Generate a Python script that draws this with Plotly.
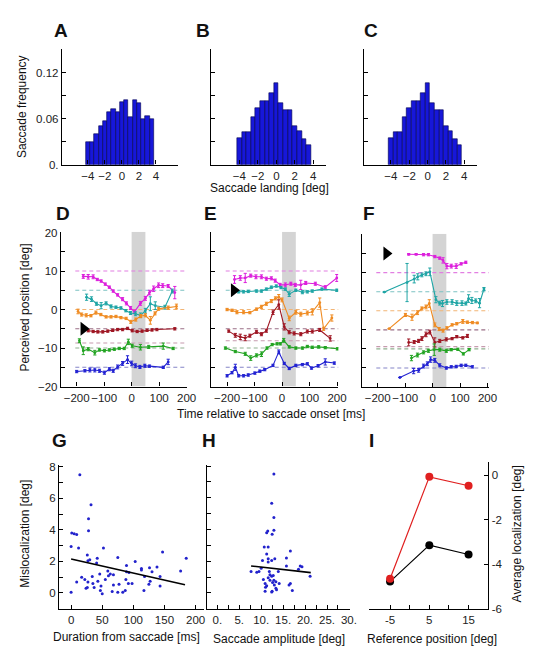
import plotly.graph_objects as go

W, H = 538, 650
FONT = "Liberation Sans, Arial, sans-serif"

# ---------------- data ----------------
bin_centers = [-4, -3.5, -3, -2.5, -2, -1.5, -1, -0.5, 0, 0.5, 1, 1.5, 2, 2.5, 3, 3.5]
freq_A = [0.029, 0.030, 0.040, 0.051, 0.057, 0.069, 0.072, 0.069, 0.082, 0.084, 0.062, 0.085, 0.080, 0.060, 0.063, 0.059]
freq_B = [0.035, 0.042, 0.042, 0.062, 0.074, 0.083, 0.083, 0.094, 0.106, 0.080, 0.071, 0.071, 0.051, 0.044, 0.034, 0.025]
freq_C = [0.035, 0.042, 0.042, 0.062, 0.074, 0.083, 0.083, 0.094, 0.106, 0.080, 0.071, 0.071, 0.051, 0.044, 0.034, 0.025]

saccade_window = [0, 50]
ref_span = [-205, 205]
ref_levels_D = [10, 5, 0, -5, -8.7, -10, -15]
ref_levels_E = [10, 5, 0, -5, -8.1, -10, -15]
ref_levels_F = [10, 5, 0, -5, -9.4, -10, -15]
arrow_t = [-175, -175, -168]
arrow_v = [-5, 5, 15]

# Panel D
D_mag_t = [-176, -158, -140, -125, -111, -96, -81, -67, -51, -33, -19, -4, 10, 32, 50, 65, 80, 98, 113, 133, 157]
D_mag_y = [8.6, 8.5, 8.5, 7.8, 7.4, 6.6, 5.8, 4.8, 3.8, 2.7, 1.6, 0.4, -0.6, 1.6, 2.9, 4.4, 5.4, 6.3, 6.2, 6.1, 4.4]
D_mag_e = [0.5, 0.6, 0.5, 0.3, 0.3, 0.3, 0.3, 0.3, 0.3, 0.4, 0.4, 0.4, 0.5, 0.5, 0.5, 0.6, 0.7, 0.6, 0.5, 0.4, 1.6]
D_teal_t = [-164, -146, -128, -111, -93, -75, -57, -39, -21, -4, 14, 32, 50, 68, 86, 121, 148]
D_teal_y = [3.2, 2.7, 1.5, 1.0, 1.6, 0.8, 0.6, 0.4, -0.3, -0.9, -1.1, -1.5, -0.3, 1.5, 1.0, 0.6, 4.8]
D_teal_e = [0.8, 0.6, 0.4, 0.8, 0.4, 0.4, 0.3, 0.3, 0.3, 0.4, 0.5, 0.6, 0.6, 1.8, 1.0, 0.5, 0.5]
D_org_t = [-195, -182, -165, -148, -130, -112, -93, -75, -57, -39, -20, -3, 15, 33, 50, 68, 85, 98, 133, 163]
D_org_y = [-0.5, -1.3, -1.5, -1.6, -0.8, -1.3, -1.9, -1.9, -1.8, -2.1, -2.3, -3.2, -2.6, -1.7, -1.5, -2.8, -1.0, 0.2, 0.5, 0.8]
D_org_e = [0.6, 0.4, 0.4, 0.3, 0.4, 0.3, 0.3, 0.3, 0.3, 0.3, 0.3, 0.4, 0.4, 0.4, 0.4, 1.0, 0.4, 0.4, 0.4, 0.6]
D_red_t = [-158, -140, -123, -105, -87, -69, -51, -33, -15, 2, 20, 38, 56, 74, 92, 157]
D_red_y = [-5.5, -5.7, -5.8, -5.8, -5.6, -5.4, -5.2, -5.2, -4.9, -5.5, -5.7, -5.6, -5.4, -5.3, -5.2, -5.0]
D_red_e = [0.3, 0.3, 0.3, 0.3, 0.3, 0.3, 0.3, 0.3, 0.3, 0.3, 0.3, 0.3, 0.3, 0.3, 0.3, 0.3]
D_grn_t = [-190, -176, -158, -134, -117, -99, -81, -63, -45, -27, -12, 2, 32, 62, 115, 151]
D_grn_y = [-8.1, -10.7, -10.3, -11.2, -10.5, -10.7, -10.5, -10.3, -10.1, -10.1, -8.4, -9.4, -9.8, -9.7, -9.5, -10.1]
D_grn_e = [0.5, 1.0, 0.4, 0.6, 0.3, 0.3, 0.3, 0.3, 0.3, 0.3, 0.7, 0.4, 0.7, 0.4, 0.8, 0.3]
D_blu_t = [-200, -170, -152, -134, -117, -99, -81, -67, -51, -33, -15, 0, 14, 30, 48, 65, 115, 133]
D_blu_y = [-16.1, -15.9, -15.7, -15.7, -15.9, -16.4, -15.5, -15.9, -14.9, -14.0, -13.0, -14.0, -14.6, -14.9, -14.6, -14.7, -15.0, -13.6]
D_blu_e = [0.3, 0.3, 0.5, 0.5, 0.4, 0.4, 0.4, 0.4, 0.5, 0.5, 1.0, 0.6, 0.5, 0.4, 0.4, 0.3, 0.3, 0.7]

# Panel E
E_mag_t = [-173, -152, -134, -114, -95, -75, -57, -39, -25, -7, 12, 32, 48, 68, 86, 121, 157, 199]
E_mag_y = [7.8, 8.2, 8.2, 8.8, 8.5, 8.5, 8.0, 8.1, 7.5, 6.4, 6.4, 6.7, 6.4, 6.4, 6.9, 6.7, 5.8, 8.2]
E_mag_e = [1.0, 0.6, 1.2, 0.4, 0.5, 0.5, 0.4, 0.4, 0.4, 0.4, 0.5, 0.4, 0.4, 1.2, 0.4, 0.4, 0.4, 0.9]
E_teal_t = [-158, -140, -123, -93, -75, -57, -39, -21, -4, 12, 26, 50, 74, 92, 110, 145, 199]
E_teal_y = [4.6, 4.6, 4.7, 4.8, 4.8, 5.3, 5.8, 6.1, 5.7, 5.3, 4.0, 5.0, 4.5, 4.6, 4.8, 5.3, 5.0]
E_teal_e = [0.3, 0.3, 0.3, 0.3, 0.3, 0.3, 0.3, 0.3, 0.3, 0.3, 0.6, 0.3, 0.4, 0.3, 0.3, 0.3, 0.3]
E_org_t = [-200, -182, -164, -140, -117, -93, -75, -57, -39, -24, -12, 0, 26, 50, 68, 92, 110, 137, 151, 181]
E_org_y = [0.0, -0.2, -0.7, -0.7, -0.8, 0.1, 0.7, 1.5, 2.2, 2.9, 3.3, 2.5, -2.3, -0.7, -1.2, -0.9, -0.6, 1.8, -5.0, -2.2]
E_org_e = [0.3, 0.3, 0.4, 0.4, 0.3, 0.3, 0.4, 0.4, 0.4, 0.4, 0.6, 0.5, 0.6, 0.5, 0.5, 0.5, 0.8, 1.2, 0.4, 0.8]
E_red_t = [-194, -170, -152, -134, -117, -93, -75, -57, -33, -12, 8, 26, 44, 68, 92, 110, 137, 175]
E_red_y = [-5.6, -6.7, -7.1, -7.4, -6.8, -5.8, -6.4, -5.5, -0.7, 1.3, -4.5, -5.9, -6.2, -6.4, -5.7, -5.7, -5.3, -7.5]
E_red_e = [0.3, 0.5, 0.7, 0.7, 0.4, 0.4, 0.4, 0.4, 0.6, 1.2, 0.8, 0.4, 0.4, 0.4, 0.4, 0.4, 0.4, 0.7]
E_grn_t = [-206, -170, -134, -114, -93, -75, -55, -36, -18, -6, 6, 26, 50, 74, 92, 110, 133, 157, 201]
E_grn_y = [-10.0, -10.9, -11.5, -12.6, -11.9, -11.6, -10.0, -9.1, -8.9, -8.9, -8.0, -9.7, -10.0, -10.0, -9.6, -9.8, -9.7, -9.9, -10.2]
E_grn_e = [0.3, 0.3, 0.4, 0.6, 0.4, 0.6, 0.3, 0.3, 0.3, 0.3, 0.5, 0.3, 0.3, 0.3, 0.3, 0.3, 0.3, 0.3, 0.3]
E_blu_t = [-200, -182, -170, -158, -140, -123, -99, -81, -63, -33, -12, 8, 26, 50, 74, 92, 107, 131, 157, 190]
E_blu_y = [-17.2, -16.4, -15.0, -17.2, -17.2, -17.0, -16.5, -16.0, -15.6, -14.5, -11.0, -14.0, -15.3, -14.5, -14.3, -14.1, -15.2, -14.6, -13.6, -13.9]
E_blu_e = [0.3, 0.3, 0.8, 0.3, 0.3, 0.3, 0.3, 0.3, 0.3, 0.3, 0.5, 0.3, 0.3, 0.3, 0.3, 0.3, 0.3, 0.3, 0.8, 0.3]

# Panel F
F_mag_t = [-87, -60, -33, -15, 8, 26, 38, 52, 68, 86, 104, 121]
F_mag_y = [14.8, 14.8, 14.7, 14.7, 14.2, 13.8, 13.2, 11.7, 11.7, 11.7, 12.3, 12.7]
F_mag_e = [0.2, 0.2, 0.3, 0.3, 0.3, 0.3, 0.7, 0.7, 0.5, 0.6, 0.3, 0.3]
F_teal_t = [-176, -93, -67, -54, -39, -24, -10, 12, 26, 36, 52, 71, 88, 107, 121, 131, 143, 157, 171, 187]
F_teal_y = [4.9, 7.4, 8.3, 8.9, 9.4, 9.7, 10.2, 2.9, 2.0, 1.9, 2.3, 2.3, 2.0, 2.0, 1.9, 3.2, 2.7, 2.6, 2.0, 5.7]
F_teal_e = [0.0, 5.0, 1.0, 0.8, 0.5, 0.5, 1.0, 0.8, 0.5, 0.8, 0.6, 0.6, 0.6, 0.6, 0.4, 1.0, 0.8, 0.5, 1.2, 0.4]
F_org_t = [-158, -99, -75, -55, -39, -24, -12, 8, 24, 38, 52, 71, 88, 110, 127, 145, 163]
F_org_y = [-4.7, -1.1, -1.7, -0.5, 0.6, 1.0, 1.9, -3.7, -4.8, -5.2, -4.5, -3.7, -3.4, -2.8, -3.0, -3.1, -3.2]
F_org_e = [0.0, 0.4, 0.8, 0.5, 0.4, 0.5, 1.0, 0.5, 0.4, 0.4, 0.3, 0.3, 0.3, 0.5, 0.3, 0.3, 0.2]
F_red_t = [-87, -67, -51, -39, -24, -10, 8, 26, 50, 71, 88, 110, 127]
F_red_y = [-8.3, -8.2, -7.9, -7.3, -6.2, -5.6, -8.3, -7.9, -7.5, -7.3, -6.8, -7.1, -6.6]
F_red_e = [0.9, 0.4, 0.4, 0.5, 0.6, 0.5, 1.2, 0.4, 0.4, 0.3, 0.3, 0.3, 0.4]
F_grn_t = [-77, -55, -33, -15, 6, 26, 50, 68, 92, 112, 133]
F_grn_y = [-12.4, -11.6, -10.9, -10.5, -10.2, -10.2, -10.5, -10.2, -10.1, -11.3, -10.2]
F_grn_e = [0.7, 0.5, 0.4, 0.4, 1.5, 0.4, 0.4, 0.3, 0.3, 0.3, 0.3]
F_blu_t = [-119, -69, -51, -33, -19, -7, 8, 26, 50, 68, 86, 104, 121, 145]
F_blu_y = [-17.5, -15.8, -15.6, -14.5, -13.9, -12.8, -13.0, -14.3, -15.0, -14.7, -14.6, -14.3, -14.3, -14.7]
F_blu_e = [0.0, 0.7, 0.5, 0.5, 0.5, 0.7, 0.5, 0.4, 0.3, 0.3, 0.3, 0.3, 0.3, 0.3]

# Panel G
G_t = [14, 32, 28, 28, 1, 5, 9, 0, 12, 52, 147, 26, 75, 185, 30, 27, 42, 41, 103, 89,
       138, 126, 113, 113, 176, 89, 93, 59, 130, 143, 118, 68, 60, 63, 46, 34, 17, 22, 55, 88,
       92, 98, 9, 27, 35, 43, 48, 77, 68, 127, 125, 143, 24, 26, 37, 47, 50, 0, 66, 75,
       83, 87, 117]
G_v = [7.5, 5.6, 4.7, 3.95, 3.8, 3.75, 3.7, 2.95, 2.85, 2.85, 2.6, 2.4, 2.25, 2.2, 2.1, 2.05, 2.2, 1.9, 2.0, 1.75,
       1.65, 1.6, 1.55, 1.45, 1.4, 1.35, 1.3, 1.4, 1.35, 1.05, 1.05, 1.15, 1.1, 1.2, 1.2, 1.05, 1.0, 0.85, 0.85, 0.85,
       0.6, 0.6, 0.7, 0.7, 0.6, 0.75, 0.45, 0.55, 0.5, 0.75, 0.55, 0.45, 0.3, 0.35, 0.35, 0.15, -0.05, 0.05, 0.1, 0.05,
       0.05, 0.15, 0.15]
G_fit_t = [0, 183]
G_fit_v = [2.15, 0.52]

# Panel H
H_a = [12.9, 12.4, 12.9, 12.9, 11.25, 11.5, 12.5, 10.7, 11.6, 16.65, 11.25, 11.6, 15.75, 13.1, 10.3,
       12.4, 11.6, 15.75, 18.9, 19.3, 10.0, 7.7, 9.0, 9.5, 11.85, 13.9, 18.5, 21.15, 10.5, 12.0,
       12.4, 12.75, 11.6, 12.9, 13.35, 12.6, 14.1, 10.9, 11.25, 11.0, 10.9, 12.4, 12.5, 13.35, 13.5,
       16.65, 16.35, 17.1, 12.0, 13.0]
H_v = [7.5, 5.65, 4.75, 3.95, 3.8, 3.9, 3.7, 2.9, 2.9, 2.65, 2.45, 2.15, 2.2, 2.15, 2.05,
       2.05, 1.95, 1.7, 1.7, 1.65, 1.55, 1.35, 1.3, 1.35, 1.35, 1.35, 1.5, 1.05, 0.85, 1.15,
       1.05, 1.1, 0.95, 0.8, 0.7, 0.65, 0.6, 0.6, 0.45, 0.35, 0.1, 0.05, 0.1, 0.3, 0.2,
       0.6, 0.5, 0.15, 0.8, 0.5]
H_fit_a = [7.7, 21.3]
H_fit_v = [1.7, 1.28]

# Panel I
I_ref = [-5, 5, 15]
I_red = [-4.65, -0.07, -0.47]
I_black = [-4.78, -3.14, -3.56]

# ---------------- styling ----------------
C_MAG, C_TEAL, C_ORG, C_RED, C_GRN, C_BLU = "#dc1fdc", "#1fa5a5", "#ef8b22", "#9e1522", "#22a322", "#2222d2"
REF_COLORS = ["#e27fe2", "#7cc2c2", "#f2b576", "#9a6f86", "#c69aae", "#8fb08f", "#8585c8"]
BAR_COLOR = "#1717d9"

def px_x(x):
    return x / W

def px_y(y):
    return 1 - y / H

fig = go.Figure()

def base_axis(**kw):
    d = dict(showline=True, linecolor="black", linewidth=1.4, ticks="inside", ticklen=4,
             tickcolor="black", tickwidth=1, showgrid=False, zeroline=False, tickangle=0,
             tickfont=dict(family=FONT, size=11.5, color="#222"), fixedrange=True)
    d.update(kw)
    return d

layout = {}

def set_panel(n, xdom, ydom, xr, yr, xkw, ykw):
    xs = "xaxis" if n == 1 else f"xaxis{n}"
    ys = "yaxis" if n == 1 else f"yaxis{n}"
    tag = "" if n == 1 else str(n)
    layout[xs] = base_axis(domain=[px_x(xdom[0]), px_x(xdom[1])], range=xr, anchor="y" + tag, **xkw)
    layout[ys] = base_axis(domain=[px_y(ydom[1]), px_y(ydom[0])], range=yr, anchor="x" + tag, **ykw)

hist_y_vals = [0, 0.03, 0.06, 0.09, 0.12]
hist_x_vals = [-4, -2, 0, 2, 4]
hist_x_text = ["−4", "−2", "0", "2", "4"]

set_panel(1, (55, 173), (36.7, 154.3), [-7.04, 6.57], [0, 0.151],
          dict(tickvals=hist_x_vals, ticktext=hist_x_text),
          dict(tickvals=hist_y_vals, ticktext=["0.", "", "0.06", "", "0.12"]))
set_panel(2, (207, 324), (36.7, 154.3), [-7.05, 5.37], [0, 0.151],
          dict(tickvals=hist_x_vals, ticktext=hist_x_text),
          dict(tickvals=hist_y_vals, ticktext=["", "", "", "", ""]))
set_panel(3, (362.3, 478.3), (36.7, 154.3), [-6.98, 5.43], [0, 0.151],
          dict(tickvals=hist_x_vals, ticktext=hist_x_text),
          dict(tickvals=hist_y_vals, ticktext=["", "", "", "", ""]))

t_vals = [-200, -100, 0, 100, 200]
t_text = ["−200", "−100", "0", "100", "200"]
p_vals = [-20, -15, -10, -5, 0, 5, 10, 15, 20]
set_panel(4, (54, 182), (222.5, 380), [-257, 200], [-20, 20.2],
          dict(tickvals=t_vals, ticktext=t_text),
          dict(tickvals=p_vals, ticktext=["−20", "", "−10", "", "0", "", "10", "", "20"]))
set_panel(5, (206.7, 336.7), (222.5, 380), [-259, 205], [-20, 20.2],
          dict(tickvals=t_vals, ticktext=t_text),
          dict(tickvals=p_vals, ticktext=[""] * 9))
set_panel(6, (361, 490), (224.5, 380.5), [-256, 205], [-20, 20.2],
          dict(tickvals=t_vals, ticktext=t_text),
          dict(tickvals=p_vals, ticktext=[""] * 9))

set_panel(7, (52, 200), (460, 606), [-19.4, 214], [-1, 8.1],
          dict(tickvals=[0, 50, 100, 150, 200], ticktext=["0", "50", "100", "150", "200"]),
          dict(tickvals=[0, 1, 2, 3, 4, 5, 6, 7, 8], ticktext=["0", "", "2", "", "4", "", "6", "", "8"]))
set_panel(8, (202.7, 348.3), (459.3, 606), [-2.36, 30.2], [-1, 8.1],
          dict(tickvals=[0, 2.5, 5, 7.5, 10, 12.5, 15, 17.5, 20, 22.5, 25, 27.5, 30],
               ticktext=["0.", "", "5.", "", "10.", "", "15.", "", "20.", "", "25.", "", "30."]),
          dict(tickvals=[0, 1, 2, 3, 4, 5, 6, 7, 8], ticktext=[""] * 9))
set_panel(9, (368.3, 489.3), (456.7, 606), [-10.25, 20.0], [-6, 0.6],
          dict(tickvals=[-5, 0, 5, 10, 15], ticktext=["-5", "", "5", "", "15"]),
          dict(tickvals=[-6, -4, -2, 0], ticktext=["-6", "-4", "-2", "0"], side="right"))

# ---------------- traces ----------------
for n, freq in zip([1, 2, 3], [freq_A, freq_B, freq_C]):
    tag = "" if n == 1 else str(n)
    fig.add_trace(go.Bar(x=bin_centers, y=freq, width=0.5, marker=dict(color=BAR_COLOR, line=dict(color="#00004a", width=0.6)),
                         xaxis="x" + tag, yaxis="y" + tag, showlegend=False))

shapes = []
panels = [
    (4, ref_levels_D, [(D_mag_t, D_mag_y, D_mag_e, C_MAG), (D_teal_t, D_teal_y, D_teal_e, C_TEAL),
                       (D_org_t, D_org_y, D_org_e, C_ORG), (D_red_t, D_red_y, D_red_e, C_RED),
                       (D_grn_t, D_grn_y, D_grn_e, C_GRN), (D_blu_t, D_blu_y, D_blu_e, C_BLU)]),
    (5, ref_levels_E, [(E_mag_t, E_mag_y, E_mag_e, C_MAG), (E_teal_t, E_teal_y, E_teal_e, C_TEAL),
                       (E_org_t, E_org_y, E_org_e, C_ORG), (E_red_t, E_red_y, E_red_e, C_RED),
                       (E_grn_t, E_grn_y, E_grn_e, C_GRN), (E_blu_t, E_blu_y, E_blu_e, C_BLU)]),
    (6, ref_levels_F, [(F_mag_t, F_mag_y, F_mag_e, C_MAG), (F_teal_t, F_teal_y, F_teal_e, C_TEAL),
                       (F_org_t, F_org_y, F_org_e, C_ORG), (F_red_t, F_red_y, F_red_e, C_RED),
                       (F_grn_t, F_grn_y, F_grn_e, C_GRN), (F_blu_t, F_blu_y, F_blu_e, C_BLU)]),
]
for i, (n, refs, series) in enumerate(panels):
    xa, ya = f"x{n}", f"y{n}"
    shapes.append(dict(type="rect", xref=xa, yref=ya, x0=saccade_window[0], x1=saccade_window[1],
                       y0=-20, y1=20.2, fillcolor="#d4d4d4", line=dict(width=0), layer="below"))
    for lv, col in zip(refs, REF_COLORS):
        fig.add_trace(go.Scatter(x=ref_span, y=[lv, lv], mode="lines", line=dict(color=col, width=1.1, dash="4px,3px"),
                                 xaxis=xa, yaxis=ya, showlegend=False, hoverinfo="skip"))
    for t, v, e, col in series:
        fig.add_trace(go.Scatter(x=t, y=v, mode="lines+markers", line=dict(color=col, width=1.1),
                                 marker=dict(color=col, size=2.8, symbol="circle"),
                                 error_y=dict(type="data", array=e, color=col, thickness=1, width=1.6),
                                 xaxis=xa, yaxis=ya, showlegend=False))
    fig.add_trace(go.Scatter(x=[arrow_t[i]], y=[arrow_v[i]], mode="markers",
                             marker=dict(symbol="triangle-right", size=12, color="black"),
                             xaxis=xa, yaxis=ya, showlegend=False))

fig.add_trace(go.Scatter(x=G_t, y=G_v, mode="markers", marker=dict(color="#2222cc", size=3),
                         xaxis="x7", yaxis="y7", showlegend=False))
fig.add_trace(go.Scatter(x=G_fit_t, y=G_fit_v, mode="lines", line=dict(color="black", width=1.6),
                         xaxis="x7", yaxis="y7", showlegend=False))
fig.add_trace(go.Scatter(x=H_a, y=H_v, mode="markers", marker=dict(color="#2222cc", size=3),
                         xaxis="x8", yaxis="y8", showlegend=False))
fig.add_trace(go.Scatter(x=H_fit_a, y=H_fit_v, mode="lines", line=dict(color="black", width=1.6),
                         xaxis="x8", yaxis="y8", showlegend=False))
fig.add_trace(go.Scatter(x=I_ref, y=I_black, mode="lines+markers", line=dict(color="black", width=1.2),
                         marker=dict(color="black", size=8), xaxis="x9", yaxis="y9", showlegend=False))
fig.add_trace(go.Scatter(x=I_ref, y=I_red, mode="lines+markers", line=dict(color="#e02020", width=1.2),
                         marker=dict(color="#e02020", size=8), xaxis="x9", yaxis="y9", showlegend=False))

# ---------------- annotations ----------------
def ann(text, x, y, size=11, bold=False, angle=0, xanchor="center", yanchor="middle"):
    return dict(text=f"<b>{text}</b>" if bold else text, x=px_x(x), y=px_y(y), xref="paper", yref="paper",
                showarrow=False, textangle=angle, xanchor=xanchor, yanchor=yanchor,
                font=dict(family=FONT, size=size, color="#111"))

annotations = [
    ann("A", 45, 18, 19, True, xanchor="left"), ann("B", 190, 18, 19, True, xanchor="left"),
    ann("C", 361, 18, 19, True, xanchor="left"),
    ann("D", 47, 204, 19, True, xanchor="left"), ann("E", 198, 204, 19, True, xanchor="left"),
    ann("F", 360, 204, 19, True, xanchor="left"),
    ann("G", 43, 435, 19, True, xanchor="left"), ann("H", 196, 435, 19, True, xanchor="left"),
    ann("I", 366, 435, 19, True, xanchor="left"),
    ann("Saccade frequency", 15, 95, 12, angle=-90),
    ann("Saccade landing [deg]", 266, 178, 12),
    ann("Perceived position [deg]", 17, 300, 12, angle=-90),
    ann("Time relative to saccade onset [ms]", 268, 408, 12),
    ann("Mislocalization [deg]", 17, 530, 12, angle=-90),
    ann("Duration from saccade [ms]", 121, 635, 12),
    ann("Saccade amplitude [deg]", 276, 637, 12),
    ann("Reference position [deg]", 432, 637, 12),
    ann("Average localization [deg]", 519, 530, 12, angle=-90),
]

fig.update_layout(**layout)
fig.update_layout(width=W, height=H, margin=dict(l=0, r=0, t=0, b=0), plot_bgcolor="white",
                  paper_bgcolor="white", shapes=shapes, annotations=annotations, bargap=0,
                  font=dict(family=FONT))
fig.write_html("out.html")
